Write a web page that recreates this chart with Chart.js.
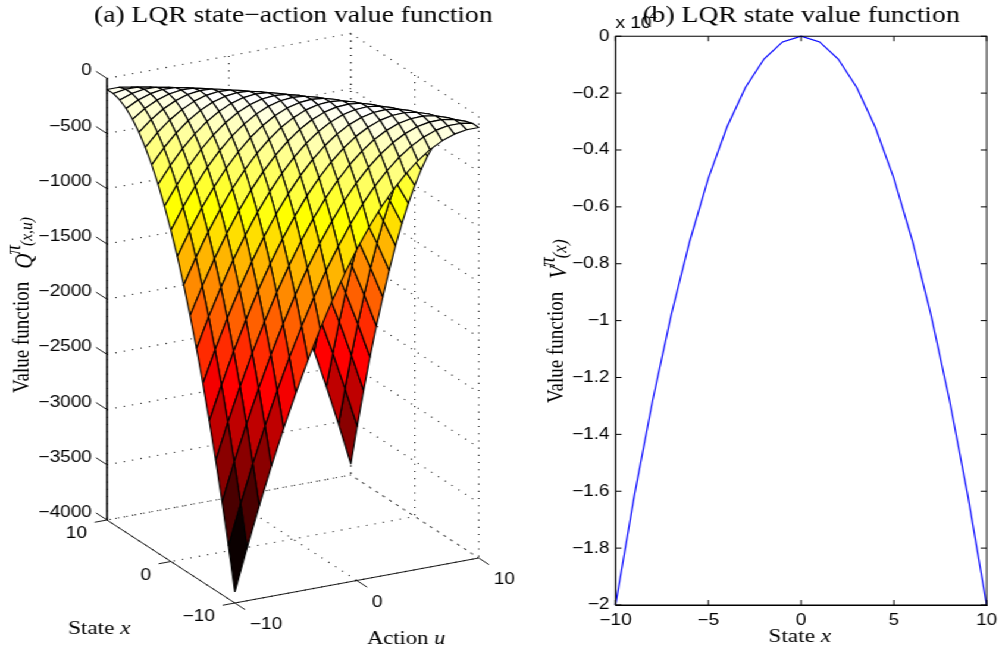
<!DOCTYPE html>
<html><head><meta charset="utf-8">
<style>
html,body{margin:0;padding:0;background:#fff;overflow:hidden}
#wrap{position:absolute;left:0;top:0;width:840px;height:650px;transform:scaleX(1.19);transform-origin:0 0}
#wrap div{position:absolute;top:0}
</style>
<script src="https://cdn.jsdelivr.net/npm/chart.js@4/dist/chart.umd.min.js"></script>
</head><body>
<div id="wrap"><div id="a"><canvas id="ca" width="493" height="650"></canvas></div><div id="b"><canvas id="cb" width="399" height="650"></canvas></div></div>
<script>
const SX = 1.19;
const stateGrid = [-10,-9,-8,-7,-6,-5,-4,-3,-2,-1,0,1,2,3,4,5,6,7,8,9,10];
const actionGrid = [-10,-9,-8,-7,-6,-5,-4,-3,-2,-1,0,1,2,3,4,5,6,7,8,9,10];
const Q = [
[-3900,-3520,-3160,-2820,-2500,-2200,-1920,-1660,-1420,-1200,-1000,-820,-660,-520,-400,-300,-220,-160,-120,-100,-100],
[-3520,-3159,-2818,-2497,-2196,-1915,-1654,-1413,-1192,-991,-810,-649,-508,-387,-286,-205,-144,-103,-82,-81,-100],
[-3160,-2818,-2496,-2194,-1912,-1650,-1408,-1186,-984,-802,-640,-498,-376,-274,-192,-130,-88,-66,-64,-82,-120],
[-2820,-2497,-2194,-1911,-1648,-1405,-1182,-979,-796,-633,-490,-367,-264,-181,-118,-75,-52,-49,-66,-103,-160],
[-2500,-2196,-1912,-1648,-1404,-1180,-976,-792,-628,-484,-360,-256,-172,-108,-64,-40,-36,-52,-88,-144,-220],
[-2200,-1915,-1650,-1405,-1180,-975,-790,-625,-480,-355,-250,-165,-100,-55,-30,-25,-40,-75,-130,-205,-300],
[-1920,-1654,-1408,-1182,-976,-790,-624,-478,-352,-246,-160,-94,-48,-22,-16,-30,-64,-118,-192,-286,-400],
[-1660,-1413,-1186,-979,-792,-625,-478,-351,-244,-157,-90,-43,-16,-9,-22,-55,-108,-181,-274,-387,-520],
[-1420,-1192,-984,-796,-628,-480,-352,-244,-156,-88,-40,-12,-4,-16,-48,-100,-172,-264,-376,-508,-660],
[-1200,-991,-802,-633,-484,-355,-246,-157,-88,-39,-10,-1,-12,-43,-94,-165,-256,-367,-498,-649,-820],
[-1000,-810,-640,-490,-360,-250,-160,-90,-40,-10,0,-10,-40,-90,-160,-250,-360,-490,-640,-810,-1000],
[-820,-649,-498,-367,-256,-165,-94,-43,-12,-1,-10,-39,-88,-157,-246,-355,-484,-633,-802,-991,-1200],
[-660,-508,-376,-264,-172,-100,-48,-16,-4,-12,-40,-88,-156,-244,-352,-480,-628,-796,-984,-1192,-1420],
[-520,-387,-274,-181,-108,-55,-22,-9,-16,-43,-90,-157,-244,-351,-478,-625,-792,-979,-1186,-1413,-1660],
[-400,-286,-192,-118,-64,-30,-16,-22,-48,-94,-160,-246,-352,-478,-624,-790,-976,-1182,-1408,-1654,-1920],
[-300,-205,-130,-75,-40,-25,-30,-55,-100,-165,-250,-355,-480,-625,-790,-975,-1180,-1405,-1650,-1915,-2200],
[-220,-144,-88,-52,-36,-40,-64,-108,-172,-256,-360,-484,-628,-792,-976,-1180,-1404,-1648,-1912,-2196,-2500],
[-160,-103,-66,-49,-52,-75,-118,-181,-264,-367,-490,-633,-796,-979,-1182,-1405,-1648,-1911,-2194,-2497,-2820],
[-120,-82,-64,-66,-88,-130,-192,-274,-376,-498,-640,-802,-984,-1186,-1408,-1650,-1912,-2194,-2496,-2818,-3160],
[-100,-81,-82,-103,-144,-205,-286,-387,-508,-649,-810,-991,-1192,-1413,-1654,-1915,-2196,-2497,-2818,-3159,-3520],
[-100,-100,-120,-160,-220,-300,-400,-520,-660,-820,-1000,-1200,-1420,-1660,-1920,-2200,-2500,-2820,-3160,-3520,-3900]
];
const zTicks = [0,-500,-1000,-1500,-2000,-2500,-3000,-3500,-4000];
const xTicks3d = [10,0,-10];
const uTicks3d = [-10,0,10];
const titleA = "(a) LQR state\u2212action value function";
const titleB = "(b) LQR state value function";
const stateB = [-10,-9,-8,-7,-6,-5,-4,-3,-2,-1,0,1,2,3,4,5,6,7,8,9,10];
const valueB = [-2,-1.62,-1.28,-0.98,-0.72,-0.5,-0.32,-0.18,-0.08,-0.02,0,-0.02,-0.08,-0.18,-0.32,-0.5,-0.72,-0.98,-1.28,-1.62,-2];

const MINUS = "\u2212";
const fmt = v => (v < 0 ? MINUS : "") + String(Math.abs(v));
const SANS = '"Liberation Sans"', SERIF = '"Liberation Serif"';
const TITLE_FONT = {family:'Liberation Serif',size:23.2,weight:'normal',lineHeight:1.2};
const TITLE_H = 29.84;

function proj(x,u,z){
  return {x: 293 - 6.4*x + 12.2*u, y: 539 - 4.15*x - 2.25*u - 0.1104*(z+4000)};
}
function hot(z){
  let t = (z+3900)/3900, i = Math.min(63,Math.floor(t*64)) + 1;
  const r = Math.min(1,i/24), g = Math.max(0,Math.min(1,(i-24)/24)), b = Math.max(0,(i-48)/16);
  return `rgb(${Math.round(r*255)},${Math.round(g*255)},${Math.round(b*255)})`;
}
function lineDs(pts,opt){
  return Object.assign({data:pts,showLine:true,pointRadius:0,fill:false,borderColor:'#000',borderWidth:1,tension:0,clip:false},opt||{});
}
const dots = {borderColor:'#222',borderWidth:1.1,borderDash:[1.1,6.1]};
const dsA = [];
const W = 10;
for (const z of zTicks){
  dsA.push(lineDs([proj(W,-W,z),proj(W,W,z),proj(-W,W,z)],dots));
}
for (const u of uTicks3d){
  dsA.push(lineDs([proj(W,u,0),proj(W,u,-4000),proj(-W,u,-4000)],dots));
}
for (const x of xTicks3d){
  dsA.push(lineDs([proj(x,W,0),proj(x,W,-4000),proj(x,-W,-4000)],dots));
}
for (let i=stateGrid.length-2;i>=0;i--){
  for (let j=actionGrid.length-2;j>=0;j--){
    const a=stateGrid[i],b=stateGrid[i+1],c=actionGrid[j],d=actionGrid[j+1];
    const p0=proj(a,c,Q[i][j]),p1=proj(b,c,Q[i+1][j]),p2=proj(b,d,Q[i+1][j+1]),p3=proj(a,d,Q[i][j+1]);
    dsA.push(lineDs([p0,p1,p2,p3,p0],{fill:'shape',backgroundColor:hot(Q[i][j]),borderWidth:1.15,borderJoinStyle:'round'}));
  }
}
dsA.push(lineDs([proj(W,-W,0),proj(W,-W,-4000),proj(-W,-W,-4000),proj(-W,W,-4000)],{borderWidth:0.9}));
for (const z of zTicks) dsA.push(lineDs([proj(W,-W,z),proj(W+1.7,-W,z)],{borderWidth:0.9}));
for (const x of xTicks3d) dsA.push(lineDs([proj(x,-W,-4000),proj(x,-W-1,-4000)],{borderWidth:0.9}));
for (const u of uTicks3d) dsA.push(lineDs([proj(-W,u,-4000),proj(-W-1.6,u,-4000)],{borderWidth:0.9}));
dsA.reverse();

function seg(ctx,parts,x,y){
  let cx=x;
  for (const p of parts){
    ctx.font=p.font;
    ctx.fillText(p.t,cx,y+(p.dy||0));
    cx+=ctx.measureText(p.t).width+(p.gap||0);
  }
}
function rotSeg(ctx,parts,bx,by){
  ctx.save();ctx.translate(bx,by);ctx.rotate(-Math.PI/2);seg(ctx,parts,0,0);ctx.restore();
}
function valueLabel(sym,sub,subSize){
  return [
    {t:'Value function',font:`19px ${SERIF}`,gap:13},
    {t:sym,font:`italic 21px ${SERIF}`,dy:3,gap:-1},
    {t:'\u03c0',font:`italic 19px ${SERIF}`,dy:-7,gap:-1},
    {t:sub,font:`italic ${subSize}px ${SERIF}`,dy:3}
  ];
}
const labelsA = {
  id:'labelsA',
  afterDraw(ch){
    const c=ch.ctx,sx=ch.scales.x,sy=ch.scales.y;
    const P=(x,u,z)=>{const p=proj(x,u,z);return {x:sx.getPixelForValue(p.x),y:sy.getPixelForValue(p.y)};};
    c.save();c.fillStyle='#000';c.textBaseline='middle';c.font=`16px ${SANS}`;
    c.textAlign='right';
    for(const z of zTicks){const p=P(W,-W,z);c.fillText(fmt(z),p.x-15/SX,p.y-7.5);}
    for(const x of xTicks3d){const p=P(x,-W,-4000);c.fillText(fmt(x),p.x-20/SX,p.y+14);}
    c.textAlign='left';
    for(const u of uTicks3d){const p=P(-W,u,-4000);c.fillText(fmt(u),p.x+15/SX,p.y+22);}
    c.textBaseline='alphabetic';
    seg(c,[{t:'State ',font:`19.5px ${SERIF}`},{t:'x',font:`italic 19.5px ${SERIF}`}],68/SX,634);
    seg(c,[{t:'Action ',font:`19px ${SERIF}`},{t:'u',font:`italic 19px ${SERIF}`}],367/SX,644);
    rotSeg(c,valueLabel('Q','(x,u)',15.5),28/SX,393);
    c.restore();
  }
};
new Chart(document.getElementById('ca'),{
  type:'scatter',
  data:{datasets:dsA},
  options:{
    responsive:false,animation:false,events:[],
    layout:{padding:0,autoPadding:false},
    scales:{
      x:{type:'linear',display:false,min:0,max:587},
      y:{type:'linear',display:false,min:TITLE_H,max:650,reverse:true}
    },
    plugins:{legend:{display:false},tooltip:{enabled:false},
      title:{display:true,text:titleA,font:TITLE_FONT,color:'#000',padding:{top:2,bottom:0}}}
  },
  plugins:[labelsA]
});
</script>
<script>
const BL = 530;
const L = x => (x-BL)/SX;
const boxB = {
  id:'boxB',
  afterDraw(ch){
    const c=ch.ctx,{left,right,top,bottom}=ch.chartArea,sx=ch.scales.x,sy=ch.scales.y;
    c.save();c.strokeStyle='#000';c.lineWidth=1;
    c.strokeRect(left,top,right-left,bottom-top);
    c.beginPath();
    for(const t of sx.ticks){const p=sx.getPixelForValue(t.value);c.moveTo(p,bottom);c.lineTo(p,bottom-5);c.moveTo(p,top);c.lineTo(p,top+5);}
    for(const t of sy.ticks){const p=sy.getPixelForValue(t.value);c.moveTo(left,p);c.lineTo(left+5,p);c.moveTo(right,p);c.lineTo(right-5,p);}
    c.stroke();
    c.fillStyle='#000';c.textBaseline='alphabetic';
    seg(c,[{t:'x 10',font:`16px ${SANS}`}],L(616),28);
    seg(c,[{t:'4',font:`11px ${SANS}`}],L(650),20);
    seg(c,[{t:'State ',font:`19.5px ${SERIF}`},{t:'x',font:`italic 19.5px ${SERIF}`}],L(769),642);
    rotSeg(c,valueLabel('V','(x)',17),L(563),403);
    c.restore();
  }
};
const tickFont={family:'Liberation Sans',size:16};
new Chart(document.getElementById('cb'),{
  type:'line',
  data:{labels:stateB,datasets:[{data:stateB.map((x,i)=>({x,y:valueB[i]})),borderColor:'#0000ff',borderWidth:1.2,pointRadius:0,tension:0,fill:false,clip:false}]},
  options:{
    responsive:false,animation:false,events:[],
    layout:{padding:{left:0,right:5.9,top:0,bottom:0},autoPadding:false},
    scales:{
      x:{type:'linear',min:-10,max:10,grid:{display:false,drawTicks:false},border:{color:'#000',width:1},
        afterFit(s){s.height=45;},
        afterBuildTicks(s){s.ticks=[-10,-5,0,5,10].map(v=>({value:v}));},
        ticks:{color:'#000',font:tickFont,padding:6,maxRotation:0,autoSkip:false,callback:v=>fmt(v)}},
      y:{type:'linear',min:-2,max:0,grid:{display:false,drawTicks:false},border:{color:'#000',width:1},
        afterFit(s){s.width=(616-BL)/SX;},
        ticks:{color:'#000',font:tickFont,padding:5,stepSize:0.2,autoSkip:false,callback:v=>fmt(Number(v.toFixed(1)))}}
    },
    plugins:{legend:{display:false},tooltip:{enabled:false},
      title:{display:true,fullSize:false,text:titleB,font:TITLE_FONT,color:'#000',padding:{top:2,bottom:6.4}}}
  },
  plugins:[boxB]
});
document.getElementById('b').style.left=(BL/SX)+'px';
</script>
</body></html>
